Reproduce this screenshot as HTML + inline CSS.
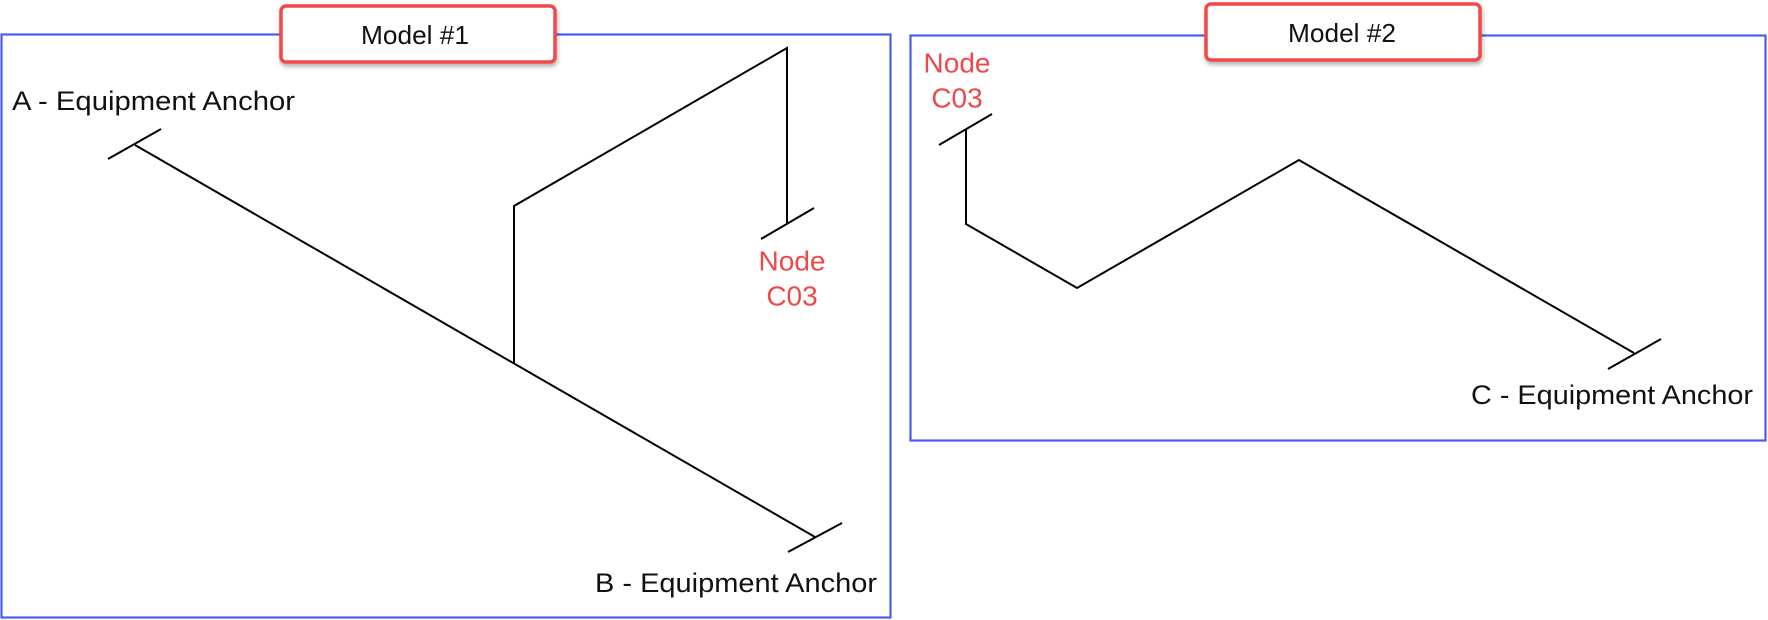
<!DOCTYPE html>
<html><head><meta charset="utf-8"><style>
html,body{margin:0;padding:0;background:#fff;width:1768px;height:620px;overflow:hidden}
svg{display:block}
text{font-family:"Liberation Sans",sans-serif}
</style></head><body>
<svg width="1768" height="620" viewBox="0 0 1768 620" xmlns="http://www.w3.org/2000/svg">
<defs><filter id="sh" x="-10%" y="-20%" width="130%" height="150%"><feDropShadow dx="1" dy="3" stdDeviation="2" flood-color="#000" flood-opacity="0.3"/></filter></defs>
<g fill="none" stroke="#4a5cf0" stroke-width="2.2">
<rect x="1.5" y="34.5" width="889" height="583"/>
<rect x="910.5" y="35.5" width="855" height="405"/>
</g>
<g stroke="#000" stroke-width="2" fill="none">
<line x1="135" y1="145" x2="815" y2="537"/>
<line x1="108" y1="159" x2="161" y2="129"/>
<line x1="788" y1="552" x2="842" y2="523"/>
<polyline points="514,363 514,206 787,48 787,224"/>
<line x1="761" y1="239" x2="814" y2="208"/>
<polyline points="966,129 966,224 1077,288 1299,160 1634,353"/>
<line x1="939" y1="145" x2="992" y2="114"/>
<line x1="1608" y1="369" x2="1661" y2="339"/>
</g>
<g fill="#fff" stroke="#f04848" stroke-width="3.5" filter="url(#sh)">
<rect x="281" y="6" width="274" height="56" rx="5"/>
<rect x="1206" y="4" width="274" height="56" rx="5"/>
</g>
<g font-size="26" fill="#111" text-anchor="middle" dominant-baseline="central">
<text x="415" y="35" textLength="108" lengthAdjust="spacingAndGlyphs">Model #1</text>
<text x="1342" y="33" textLength="108" lengthAdjust="spacingAndGlyphs">Model #2</text>
</g>
<g font-size="27" fill="#111" dominant-baseline="central">
<text x="12" y="101" textLength="283" lengthAdjust="spacingAndGlyphs">A - Equipment Anchor</text>
<text x="595" y="583" textLength="282" lengthAdjust="spacingAndGlyphs">B - Equipment Anchor</text>
<text x="1471" y="395" textLength="282" lengthAdjust="spacingAndGlyphs">C - Equipment Anchor</text>
</g>
<g font-size="28" fill="#f04848" text-anchor="middle" dominant-baseline="central">
<text x="792" y="261">Node</text>
<text x="792" y="296">C03</text>
<text x="957" y="63">Node</text>
<text x="957" y="98">C03</text>
</g>
</svg>
</body></html>
